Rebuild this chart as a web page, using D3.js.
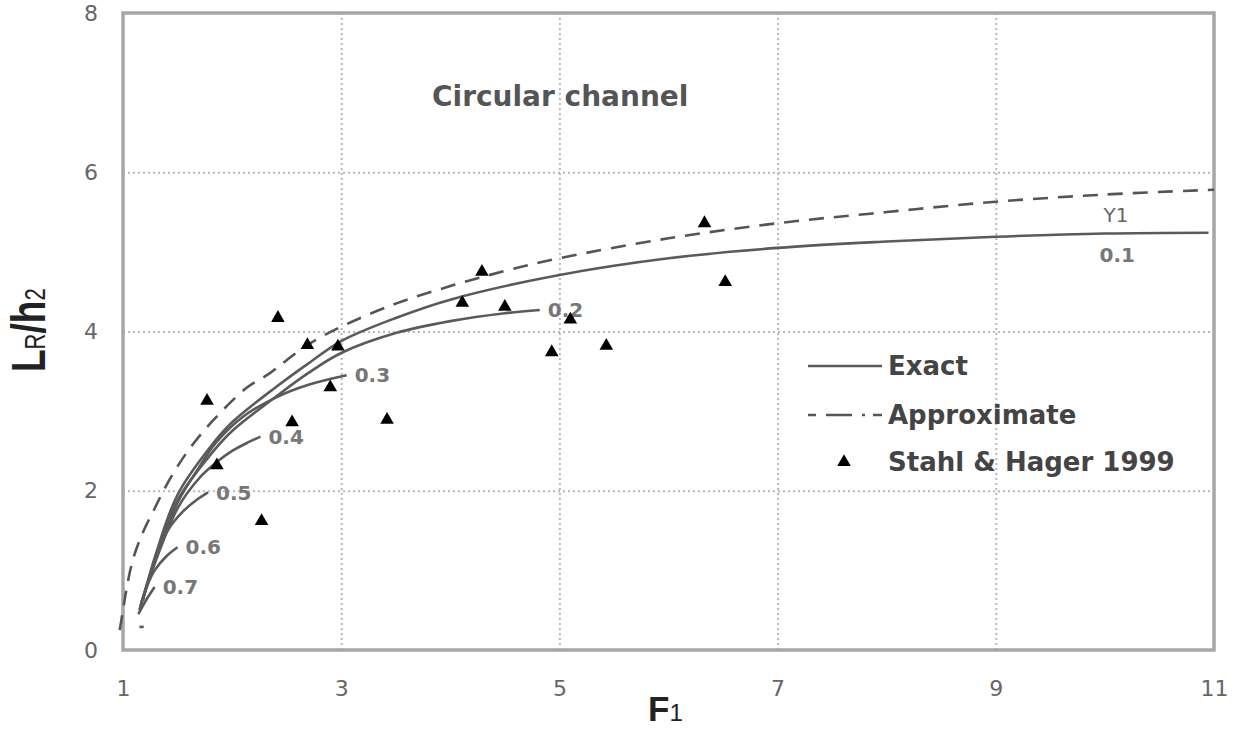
<!DOCTYPE html>
<meta charset="utf-8">
<style>
body { margin: 0; background: #fff; }
svg { display: block; }
.tick text { font-family: 'DejaVu Sans', sans-serif; font-size: 22px; fill: #666; }
.grid line { stroke: #b8b8b8; stroke-width: 2; stroke-dasharray: 2,3; }
.grid path { display: none; }
.exact { fill: none; stroke: #5a5a5a; stroke-width: 2.6; }
.approx { fill: none; stroke: #555; stroke-width: 2.6; stroke-dasharray: 15,10; }
.lbl { font-family: 'DejaVu Sans', sans-serif; font-weight: bold; font-size: 20px; fill: #777; }
.legend text { font-family: 'DejaVu Sans', sans-serif; font-weight: bold; font-size: 26px; fill: #444; }
</style>
<body>
<svg width="1238" height="730"></svg>
<script src="https://cdnjs.cloudflare.com/ajax/libs/d3/7.8.5/d3.min.js"></script>
<script>

// tick values
var xTicks = [1, 3, 5, 7, 9, 11];
var yTicks = [0, 2, 4, 6, 8];

// exact solution, one array per Y1 value, [F1, LR/h2]
var exact01 = [[1.18,0.62],[1.3,1.2],[1.5,1.95],[1.8,2.55],[2.0,2.86],[2.4,3.3],[2.7,3.6],[3.0,3.88],[3.5,4.17],[4.0,4.4],[5.0,4.71],[6.0,4.92],[7.0,5.05],[8.0,5.13],[9.0,5.19],[10.0,5.23],[10.95,5.24]];
var exact02 = [[1.18,0.62],[1.3,1.17],[1.5,1.88],[1.8,2.45],[2.0,2.75],[2.4,3.18],[2.7,3.48],[3.0,3.73],[3.5,3.98],[4.0,4.13],[4.5,4.23],[4.82,4.27]];
var exact03 = [[1.18,0.62],[1.3,1.15],[1.5,1.85],[1.7,2.3],[1.85,2.6],[2.1,2.93],[2.4,3.17],[2.7,3.33],[3.05,3.45]];
var exact04 = [[1.17,0.6],[1.3,1.12],[1.5,1.78],[1.7,2.16],[1.86,2.36],[2.0,2.5],[2.15,2.61],[2.26,2.68]];
var exact05 = [[1.16,0.55],[1.25,0.95],[1.41,1.5],[1.55,1.74],[1.68,1.89],[1.78,1.98]];
var exact06 = [[1.15,0.5],[1.22,0.8],[1.29,1.0],[1.4,1.18],[1.5,1.29]];
var exact07 = [[1.14,0.45],[1.2,0.6],[1.25,0.71],[1.29,0.79]];
var exact08 = [[1.15,0.29],[1.19,0.29]];

var exactCurves = [exact01, exact02, exact03, exact04, exact05, exact06, exact07, exact08];
var exactLabels = ["0.1", "0.2", "0.3", "0.4", "0.5", "0.6", "0.7", ""];

// approximate solution
var approx = [[0.97,0.25],[1.0,0.5],[1.03,0.75],[1.09,1.13],[1.18,1.47],[1.28,1.75],[1.39,2.05],[1.52,2.35],[1.65,2.6],[1.83,2.89],[2.13,3.29],[2.35,3.48],[2.5,3.64],[2.69,3.83],[3.0,4.06],[3.5,4.35],[4.0,4.57],[4.5,4.76],[5.0,4.92],[6.0,5.17],[7.0,5.36],[8.0,5.5],[9.0,5.63],[10.0,5.72],[11.0,5.78]];

// Stahl & Hager 1999 data
var stahlF = [1.77, 2.42, 1.86, 2.27, 2.55, 2.69, 2.97, 2.90, 3.42, 4.11, 4.29, 4.50, 5.10, 4.93, 5.43, 6.33, 6.52];
var stahlL = [3.13, 4.17, 2.32, 1.62, 2.86, 3.83, 3.81, 3.30, 2.89, 4.36, 4.75, 4.31, 4.15, 3.74, 3.82, 5.36, 4.62];

var svg = d3.select("svg");

var x = d3.scaleLinear().domain([1, 11]).range([123, 1214]);
var y = d3.scaleLinear().domain([0, 8]).range([650, 13]);

// grid
svg.append("g").attr("class", "grid")
    .attr("transform", "translate(0,650)")
    .call(d3.axisBottom(x).tickValues([3, 5, 7, 9]).tickSize(-637).tickFormat(""));
svg.append("g").attr("class", "grid")
    .attr("transform", "translate(123,0)")
    .call(d3.axisLeft(y).tickValues([2, 4, 6]).tickSize(-1091).tickFormat(""));

// frame
svg.append("rect")
    .attr("x", x(1)).attr("y", y(8))
    .attr("width", x(11) - x(1)).attr("height", y(0) - y(8))
    .attr("fill", "none").attr("stroke", "#a6a6a6").attr("stroke-width", 3.5);

// axes
var xAxis = svg.append("g")
    .attr("transform", "translate(0,650)")
    .call(d3.axisBottom(x).tickValues(xTicks).tickSize(0).tickPadding(30).tickFormat(d3.format("d")));
xAxis.select(".domain").remove();

var yAxis = svg.append("g")
    .attr("transform", "translate(123,0)")
    .call(d3.axisLeft(y).tickValues(yTicks).tickSize(0).tickPadding(25).tickFormat(d3.format("d")));
yAxis.select(".domain").remove();

var line = d3.line()
    .x(function(d) { return x(d[0]); })
    .y(function(d) { return y(d[1]); })
    .curve(d3.curveCatmullRom);

// approximate curve
svg.append("path").attr("class", "approx").attr("d", line(approx));

// exact curves
svg.selectAll("path.exact")
    .data(exactCurves)
  .enter().append("path")
    .attr("class", "exact")
    .attr("d", line);

// labels at curve ends (0.1 handled separately)
exactCurves.forEach(function(c, i) {
  if (i == 0 || exactLabels[i] == "") return;
  var last = c[c.length - 1];
  svg.append("text").attr("class", "lbl")
      .attr("x", x(last[0]) + 8)
      .attr("y", y(last[1]))
      .attr("dy", "0.36em")
      .text(exactLabels[i]);
});

var end01 = exact01[exact01.length - 1];
svg.append("text").attr("class", "lbl")
    .attr("x", x(end01[0]) - 105).attr("y", y(end01[1]) - 11)
    .style("font-weight", "normal").style("fill", "#666")
    .text("Y1");
svg.append("text").attr("class", "lbl")
    .attr("x", x(end01[0]) - 109).attr("y", y(end01[1]) + 29)
    .text("0.1");

// data points
svg.append("g").selectAll("path")
    .data(stahlF)
  .enter().append("path")
    .attr("transform", function(d, i) { return "translate(" + x(d) + "," + y(stahlL[i]) + ")"; })
    .attr("d", d3.symbol().type(d3.symbolTriangle).size(80))
    .attr("fill", "#000");

// title inside plot
svg.append("text")
    .attr("x", 432).attr("y", 106)
    .style("font-family", "'DejaVu Sans', sans-serif")
    .style("font-weight", "bold").style("font-size", "28px").style("fill", "#555")
    .text("Circular channel");

// legend
var legend = svg.append("g").attr("class", "legend");
legend.append("line").attr("class", "exact").attr("x1", 808).attr("x2", 882).attr("y1", 366).attr("y2", 366);
legend.append("text").attr("x", 888).attr("y", 366).attr("dy", "0.36em").text("Exact");
legend.append("line").attr("class", "approx").attr("x1", 808).attr("x2", 882).attr("y1", 415).attr("y2", 415)
    .style("stroke-dasharray", "8,10,26,10,3");
legend.append("text").attr("x", 888).attr("y", 415).attr("dy", "0.36em").text("Approximate");
legend.append("path")
    .attr("transform", "translate(844,462)")
    .attr("d", d3.symbol().type(d3.symbolTriangle).size(80))
    .attr("fill", "#000");
legend.append("text").attr("x", 888).attr("y", 462).attr("dy", "0.36em").text("Stahl & Hager 1999");

// axis titles
var xt = svg.append("text")
    .attr("x", 648).attr("y", 721)
    .style("font-family", "'Liberation Sans', Arial, sans-serif")
    .style("font-weight", "bold").style("fill", "#222");
xt.append("tspan").style("font-size", "35px").text("F");
xt.append("tspan").style("font-size", "24px").style("font-weight", "normal").text("1");

var yt = svg.append("text")
    .attr("transform", "translate(45,372) scale(1.3,1) rotate(-90)")
    .style("font-family", "'Liberation Sans', Arial, sans-serif")
    .style("font-weight", "bold").style("fill", "#222");
yt.append("tspan").style("font-size", "37px").text("L");
yt.append("tspan").style("font-size", "22px").style("font-weight", "normal").text("R");
yt.append("tspan").style("font-size", "37px").text("/h");
yt.append("tspan").style("font-size", "22px").style("font-weight", "normal").text("2");

</script>
</body>
